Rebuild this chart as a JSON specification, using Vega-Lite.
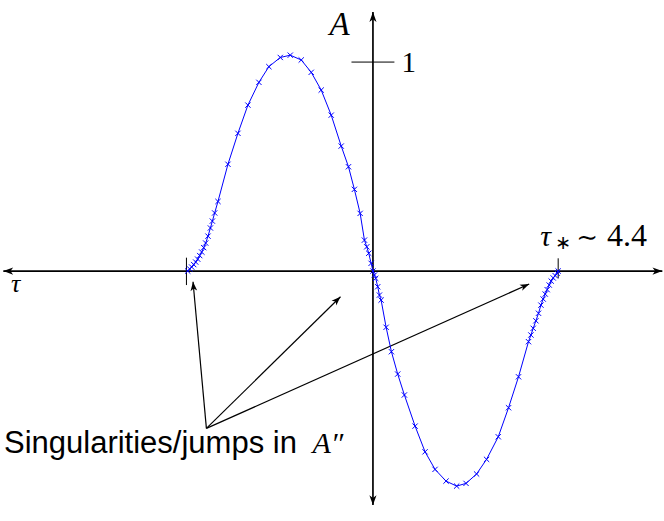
{
  "$schema": "https://vega.github.io/schema/vega-lite/v6.json",
  "width": 664,
  "height": 521,
  "padding": 0,
  "autosize": {"type": "fit", "contains": "padding"},
  "background": "white",
  "config": {"view": {"stroke": null}},
  "datasets": {
    "curve": [
      {"x": -4.400, "y": 0.000}, {"x": -4.353, "y": 0.010}, {"x": -4.305, "y": 0.019}, {"x": -4.258, "y": 0.031},
      {"x": -4.210, "y": 0.043}, {"x": -4.163, "y": 0.057}, {"x": -4.115, "y": 0.074}, {"x": -4.068, "y": 0.091},
      {"x": -4.020, "y": 0.112}, {"x": -3.973, "y": 0.134}, {"x": -3.918, "y": 0.167}, {"x": -3.861, "y": 0.206},
      {"x": -3.814, "y": 0.239}, {"x": -3.760, "y": 0.278}, {"x": -3.681, "y": 0.333}, {"x": -3.444, "y": 0.511},
      {"x": -3.207, "y": 0.659}, {"x": -2.970, "y": 0.794}, {"x": -2.709, "y": 0.903}, {"x": -2.472, "y": 0.978},
      {"x": -2.201, "y": 1.022}, {"x": -1.964, "y": 1.033}, {"x": -1.703, "y": 1.010}, {"x": -1.466, "y": 0.951},
      {"x": -1.229, "y": 0.866}, {"x": -0.991, "y": 0.746}, {"x": -0.754, "y": 0.598}, {"x": -0.581, "y": 0.499},
      {"x": -0.441, "y": 0.391}, {"x": -0.304, "y": 0.276}, {"x": -0.202, "y": 0.148}, {"x": -0.147, "y": 0.116},
      {"x": -0.100, "y": 0.085}, {"x": -0.043, "y": 0.037}, {"x": 0.000, "y": 0.000}, {"x": 0.036, "y": -0.019},
      {"x": 0.066, "y": -0.035}, {"x": 0.114, "y": -0.075}, {"x": 0.154, "y": -0.115}, {"x": 0.194, "y": -0.139},
      {"x": 0.313, "y": -0.269}, {"x": 0.439, "y": -0.386}, {"x": 0.588, "y": -0.493}, {"x": 0.747, "y": -0.593},
      {"x": 1.001, "y": -0.742}, {"x": 1.238, "y": -0.865}, {"x": 1.475, "y": -0.949}, {"x": 1.736, "y": -1.005},
      {"x": 1.988, "y": -1.029}, {"x": 2.211, "y": -1.016}, {"x": 2.462, "y": -0.971}, {"x": 2.699, "y": -0.901},
      {"x": 2.977, "y": -0.793}, {"x": 3.221, "y": -0.654}, {"x": 3.458, "y": -0.506}, {"x": 3.695, "y": -0.338},
      {"x": 3.752, "y": -0.306}, {"x": 3.807, "y": -0.274}, {"x": 3.871, "y": -0.238}, {"x": 3.933, "y": -0.202},
      {"x": 3.990, "y": -0.163}, {"x": 4.044, "y": -0.134}, {"x": 4.092, "y": -0.110}, {"x": 4.139, "y": -0.089},
      {"x": 4.187, "y": -0.067}, {"x": 4.234, "y": -0.048}, {"x": 4.282, "y": -0.033}, {"x": 4.329, "y": -0.022},
      {"x": 4.377, "y": -0.010}, {"x": 4.400, "y": 0.000}
    ],
    "segs": [
      {"kind": "axis", "x": -8.78, "y": 0, "x2": 6.874, "y2": 0},
      {"kind": "axis", "x": 0, "y": -1.12, "x2": 0, "y2": 1.239},
      {"kind": "tick", "x": -0.51, "y": 1, "x2": 0.51, "y2": 1},
      {"kind": "tick", "x": -4.43, "y": 0.064, "x2": -4.43, "y2": -0.067},
      {"kind": "tick", "x": 4.40, "y": 0.061, "x2": 4.40, "y2": -0.035},
      {"kind": "arrow", "x": -3.956, "y": -0.753, "x2": -4.274, "y2": -0.051},
      {"kind": "arrow", "x": -3.956, "y": -0.753, "x2": -0.771, "y2": -0.123},
      {"kind": "arrow", "x": -3.956, "y": -0.753, "x2": 3.712, "y2": -0.062}
    ],
    "heads": [
      {"dir": "right", "x": 6.874, "y": 0},
      {"dir": "left", "x": -8.78, "y": 0},
      {"dir": "up", "x": 0, "y": 1.239},
      {"dir": "down", "x": 0, "y": -1.12},
      {"dir": "a1", "x": -4.274, "y": -0.051},
      {"dir": "a2", "x": -0.771, "y": -0.123},
      {"dir": "a3", "x": 3.712, "y": -0.062}
    ],
    "labels": [
      {"kind": "big", "text": "A", "x": -1.03, "y": 1.129},
      {"kind": "num", "text": "1", "x": 0.68, "y": 0.952},
      {"kind": "tau", "text": "τ", "x": -8.6, "y": -0.100},
      {"kind": "taustar", "text": "τ", "x": 3.973, "y": 0.120},
      {"kind": "star", "text": "∗", "x": 4.329, "y": 0.105},
      {"kind": "sim", "text": "∼", "x": 4.827, "y": 0.120},
      {"kind": "num44", "text": "4.4", "x": 5.56, "y": 0.120},
      {"kind": "sing", "text": "Singularities/jumps in", "x": -8.764, "y": -0.871},
      {"kind": "app", "text": "A″", "x": -1.435, "y": -0.871}
    ]
  },
  "encoding": {
    "x": {"field": "x", "type": "quantitative", "scale": {"domain": [-8.859, 6.890], "nice": false, "zero": false}, "axis": null},
    "y": {"field": "y", "type": "quantitative", "scale": {"domain": [-1.196, 1.297], "nice": false, "zero": false}, "axis": null}
  },
  "layer": [
    {
      "data": {"name": "segs"},
      "transform": [{"filter": "datum.kind === 'arrow'"}],
      "mark": {"type": "rule", "color": "black", "strokeWidth": 1.2},
      "encoding": {"x2": {"field": "x2"}, "y2": {"field": "y2"}}
    },
    {
      "data": {"name": "segs"},
      "transform": [{"filter": "datum.kind === 'axis'"}],
      "mark": {"type": "rule", "color": "black", "strokeWidth": 1.7},
      "encoding": {"x2": {"field": "x2"}, "y2": {"field": "y2"}}
    },
    {
      "data": {"name": "segs"},
      "transform": [{"filter": "datum.kind === 'tick'"}],
      "mark": {"type": "rule", "color": "black", "strokeWidth": 1},
      "encoding": {"x2": {"field": "x2"}, "y2": {"field": "y2"}}
    },
    {
      "data": {"name": "curve"},
      "mark": {"type": "line", "color": "#0000ff", "strokeWidth": 1},
      "encoding": {}
    },
    {
      "data": {"name": "curve"},
      "mark": {"type": "point", "shape": "M-1,-1L1,1M1,-1L-1,1", "filled": false, "stroke": "#0000ff", "strokeWidth": 1, "size": 28, "opacity": 1}
    },
    {
      "data": {"name": "heads"},
      "transform": [{"filter": "datum.dir === 'right'"}],
      "mark": {"type": "point", "shape": "M0,0L0.8,2.2L0,1.6L-0.8,2.2Z", "filled": true, "color": "black", "size": 80, "angle": 90, "opacity": 1}
    },
    {
      "data": {"name": "heads"},
      "transform": [{"filter": "datum.dir === 'left'"}],
      "mark": {"type": "point", "shape": "M0,0L0.8,2.2L0,1.6L-0.8,2.2Z", "filled": true, "color": "black", "size": 80, "angle": 270, "opacity": 1}
    },
    {
      "data": {"name": "heads"},
      "transform": [{"filter": "datum.dir === 'up'"}],
      "mark": {"type": "point", "shape": "M0,0L0.8,2.2L0,1.6L-0.8,2.2Z", "filled": true, "color": "black", "size": 80, "angle": 0, "opacity": 1}
    },
    {
      "data": {"name": "heads"},
      "transform": [{"filter": "datum.dir === 'down'"}],
      "mark": {"type": "point", "shape": "M0,0L0.8,2.2L0,1.6L-0.8,2.2Z", "filled": true, "color": "black", "size": 80, "angle": 180, "opacity": 1}
    },
    {
      "data": {"name": "heads"},
      "transform": [{"filter": "datum.dir === 'a1'"}],
      "mark": {"type": "point", "shape": "M0,0L0.8,2.2L0,1.6L-0.8,2.2Z", "filled": true, "color": "black", "size": 70, "angle": -5.2, "opacity": 1}
    },
    {
      "data": {"name": "heads"},
      "transform": [{"filter": "datum.dir === 'a2'"}],
      "mark": {"type": "point", "shape": "M0,0L0.8,2.2L0,1.6L-0.8,2.2Z", "filled": true, "color": "black", "size": 70, "angle": 45.6, "opacity": 1}
    },
    {
      "data": {"name": "heads"},
      "transform": [{"filter": "datum.dir === 'a3'"}],
      "mark": {"type": "point", "shape": "M0,0L0.8,2.2L0,1.6L-0.8,2.2Z", "filled": true, "color": "black", "size": 70, "angle": 65.9, "opacity": 1}
    },
    {
      "data": {"name": "labels"},
      "transform": [{"filter": "datum.kind === 'big'"}],
      "mark": {"type": "text", "font": "Liberation Serif", "fontStyle": "italic", "fontSize": 33, "align": "left", "baseline": "alphabetic", "color": "black"},
      "encoding": {"text": {"field": "text"}}
    },
    {
      "data": {"name": "labels"},
      "transform": [{"filter": "datum.kind === 'num'"}],
      "mark": {"type": "text", "font": "Liberation Serif", "fontSize": 29, "align": "left", "baseline": "alphabetic", "color": "black"},
      "encoding": {"text": {"field": "text"}}
    },
    {
      "data": {"name": "labels"},
      "transform": [{"filter": "datum.kind === 'tau'"}],
      "mark": {"type": "text", "font": "Liberation Serif", "fontStyle": "italic", "fontSize": 26, "align": "left", "baseline": "alphabetic", "color": "black"},
      "encoding": {"text": {"field": "text"}}
    },
    {
      "data": {"name": "labels"},
      "transform": [{"filter": "datum.kind === 'taustar'"}],
      "mark": {"type": "text", "font": "Liberation Serif", "fontStyle": "italic", "fontSize": 30, "align": "left", "baseline": "alphabetic", "color": "black"},
      "encoding": {"text": {"field": "text"}}
    },
    {
      "data": {"name": "labels"},
      "transform": [{"filter": "datum.kind === 'star'"}],
      "mark": {"type": "text", "font": "DejaVu Sans", "fontSize": 19, "align": "left", "baseline": "alphabetic", "color": "black"},
      "encoding": {"text": {"field": "text"}}
    },
    {
      "data": {"name": "labels"},
      "transform": [{"filter": "datum.kind === 'sim'"}],
      "mark": {"type": "text", "font": "DejaVu Serif", "fontSize": 26, "align": "left", "baseline": "alphabetic", "color": "black"},
      "encoding": {"text": {"field": "text"}}
    },
    {
      "data": {"name": "labels"},
      "transform": [{"filter": "datum.kind === 'num44'"}],
      "mark": {"type": "text", "font": "Liberation Serif", "fontSize": 32, "align": "left", "baseline": "alphabetic", "color": "black"},
      "encoding": {"text": {"field": "text"}}
    },
    {
      "data": {"name": "labels"},
      "transform": [{"filter": "datum.kind === 'sing'"}],
      "mark": {"type": "text", "font": "Liberation Sans", "fontSize": 31, "align": "left", "baseline": "alphabetic", "color": "black"},
      "encoding": {"text": {"field": "text"}}
    },
    {
      "data": {"name": "labels"},
      "transform": [{"filter": "datum.kind === 'app'"}],
      "mark": {"type": "text", "font": "Liberation Serif", "fontStyle": "italic", "fontSize": 30, "align": "left", "baseline": "alphabetic", "color": "black"},
      "encoding": {"text": {"field": "text"}}
    }
  ]
}
